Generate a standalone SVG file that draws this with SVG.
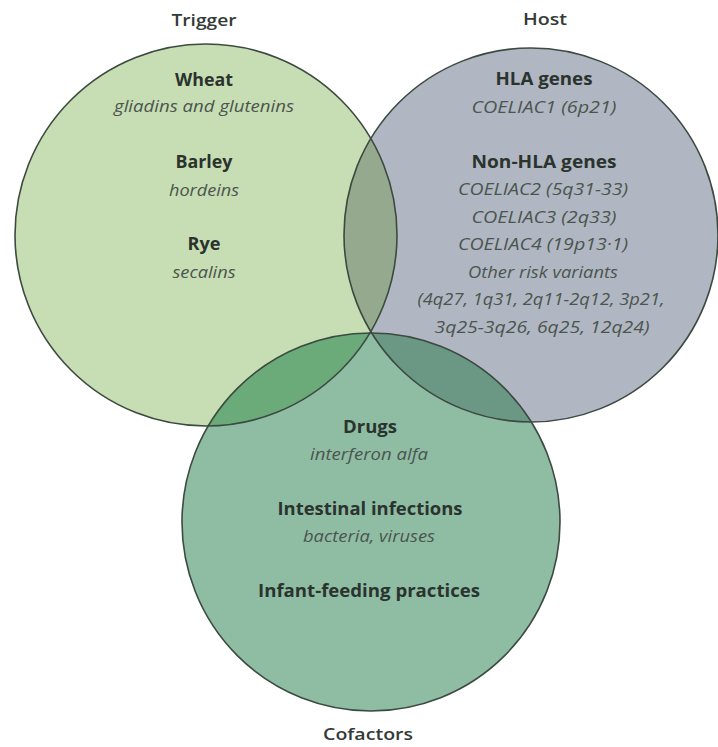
<svg xmlns="http://www.w3.org/2000/svg" width="718" height="747" viewBox="0 0 718 747">
  <style>
    text { font-family: "Open Sans", "Liberation Sans", sans-serif; text-anchor: middle; }
    .title { font-size: 16px; font-weight: 600; fill: #343a37; }
    .head { font-size: 17px; font-weight: 700; fill: #2b332e; }
    .sub { font-size: 16px; font-style: italic; fill: #4b554f; }
    .outline { fill: none; stroke: #3c4a40; stroke-width: 1.6; }
  </style>
  <defs>
    <clipPath id="clip-trigger"><circle cx="206" cy="235" r="191"/></clipPath>
    <clipPath id="clip-host"><circle cx="531" cy="235" r="187"/></clipPath>
  </defs>

  <rect width="718" height="747" fill="#ffffff"/>

  <!-- Trigger set -->
  <g id="trigger">
    <circle cx="206" cy="235" r="191" fill="#c7ddb3"/>
    <text class="title" x="204" y="26" textLength="65" lengthAdjust="spacingAndGlyphs">Trigger</text>
    <text class="head" x="204" y="86" textLength="58" lengthAdjust="spacingAndGlyphs">Wheat</text>
    <text class="sub" x="204" y="112" textLength="180" lengthAdjust="spacingAndGlyphs">gliadins and glutenins</text>
    <text class="head" x="204" y="168" textLength="57" lengthAdjust="spacingAndGlyphs">Barley</text>
    <text class="sub" x="204" y="196" textLength="70" lengthAdjust="spacingAndGlyphs">hordeins</text>
    <text class="head" x="204" y="250" textLength="33" lengthAdjust="spacingAndGlyphs">Rye</text>
    <text class="sub" x="204" y="278" textLength="63" lengthAdjust="spacingAndGlyphs">secalins</text>
  </g>

  <!-- Host set -->
  <g id="host">
    <circle cx="531" cy="235" r="187" fill="#b0b7c2"/>
    <text class="title" x="545" y="25" textLength="44" lengthAdjust="spacingAndGlyphs">Host</text>
    <text class="head" x="544" y="85" textLength="97" lengthAdjust="spacingAndGlyphs">HLA genes</text>
    <text class="sub" x="544" y="113" textLength="145" lengthAdjust="spacingAndGlyphs">COELIAC1 (6p21)</text>
    <text class="head" x="544" y="168" textLength="145" lengthAdjust="spacingAndGlyphs">Non-HLA genes</text>
    <text class="sub" x="543" y="195" textLength="170" lengthAdjust="spacingAndGlyphs">COELIAC2 (5q31-33)</text>
    <text class="sub" x="544" y="223" textLength="145" lengthAdjust="spacingAndGlyphs">COELIAC3 (2q33)</text>
    <text class="sub" x="543" y="250" textLength="170" lengthAdjust="spacingAndGlyphs">COELIAC4 (19p13·1)</text>
    <text class="sub" x="543" y="278" textLength="150" lengthAdjust="spacingAndGlyphs">Other risk variants</text>
    <text class="sub" x="541" y="305" textLength="247" lengthAdjust="spacingAndGlyphs">(4q27, 1q31, 2q11-2q12, 3p21,</text>
    <text class="sub" x="542" y="333" textLength="215" lengthAdjust="spacingAndGlyphs">3q25-3q26, 6q25, 12q24)</text>
  </g>

  <!-- Cofactors set -->
  <g id="cofactors">
    <circle cx="371" cy="522" r="189" fill="#8fbda4"/>
    <text class="head" x="370" y="433" textLength="54" lengthAdjust="spacingAndGlyphs">Drugs</text>
    <text class="sub" x="369" y="460" textLength="118" lengthAdjust="spacingAndGlyphs">interferon alfa</text>
    <text class="head" x="370" y="515" textLength="185" lengthAdjust="spacingAndGlyphs">Intestinal infections</text>
    <text class="sub" x="369" y="542" textLength="132" lengthAdjust="spacingAndGlyphs">bacteria, viruses</text>
    <text class="head" x="369" y="597" textLength="222" lengthAdjust="spacingAndGlyphs">Infant-feeding practices</text>
    <text class="title" x="368" y="740" textLength="90" lengthAdjust="spacingAndGlyphs">Cofactors</text>
  </g>

  <!-- Overlap regions and outlines -->
  <g id="connectors">
    <circle cx="531" cy="235" r="187" fill="#94a98d" clip-path="url(#clip-trigger)"/>
    <circle cx="371" cy="522" r="189" fill="#6bab7a" clip-path="url(#clip-trigger)"/>
    <circle cx="371" cy="522" r="189" fill="#6b9884" clip-path="url(#clip-host)"/>
    <circle class="outline" cx="206" cy="235" r="191"/>
    <circle class="outline" cx="531" cy="235" r="187"/>
    <circle class="outline" cx="371" cy="522" r="189"/>
  </g>
</svg>
